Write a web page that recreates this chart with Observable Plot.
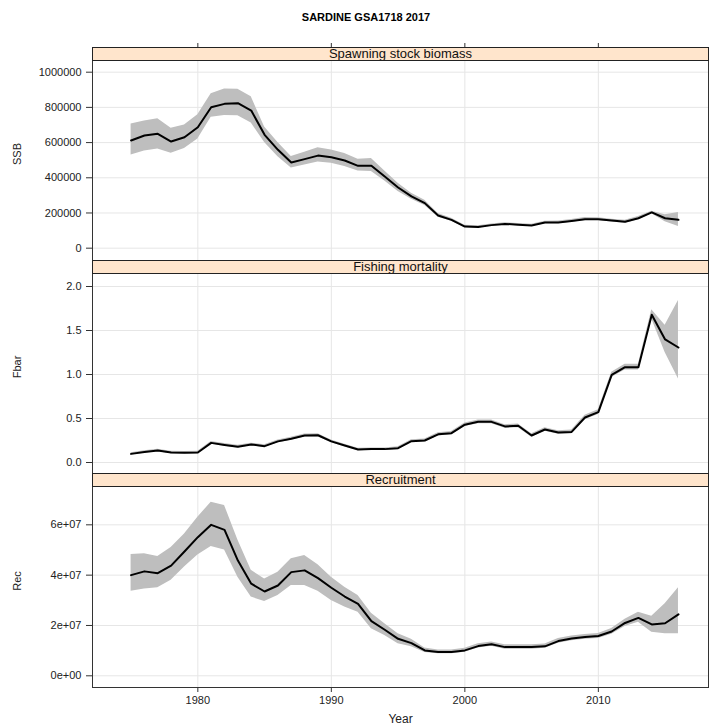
<!DOCTYPE html>
<html><head><meta charset="utf-8">
<script src="https://cdn.jsdelivr.net/npm/d3@7"></script>
<script src="https://cdn.jsdelivr.net/npm/@observablehq/plot@0.6"></script>
<style>
body{margin:0;background:#fff;}
#wrap{position:relative;width:709px;height:725px;overflow:hidden;font-family:"Liberation Sans",Arial,sans-serif;background:#fff;}
.panel{position:absolute;left:0;}
.strip{position:absolute;left:92px;width:617px;height:14px;box-sizing:border-box;border:1px solid #222;background:#ffe5cc;font-size:13px;line-height:12px;text-align:center;color:#111;overflow:hidden;z-index:5;}
#title{position:absolute;top:11px;left:0;width:732px;text-align:center;font-weight:bold;font-size:11px;color:#000;}
</style>
</head><body>
<div id="wrap">
  <div id="title">SARDINE GSA1718 2017</div>
</div>
<script>
const years = [1975,1976,1977,1978,1979,1980,1981,1982,1983,1984,1985,1986,1987,1988,1989,1990,1991,1992,1993,1994,1995,1996,1997,1998,1999,2000,2001,2002,2003,2004,2005,2006,2007,2008,2009,2010,2011,2012,2013,2014,2015,2016];

const ssb     = [612000,640000,650000,606000,630000,687000,801000,820000,824000,782000,644000,559000,487000,506000,526000,517000,498000,468000,468000,407000,345000,294000,256000,186000,161000,123000,121000,131000,138000,133000,129000,146000,146000,155000,165000,165000,157000,150000,170000,203000,170000,161000];
const ssbLow  = [530000,552000,563000,540000,566000,621000,744000,754000,752000,712000,600000,520000,455000,472000,490000,482000,464000,438000,436000,382000,322000,278000,242000,176000,153000,117000,115000,125000,131000,127000,123000,139000,139000,147000,157000,157000,149000,142000,161000,195000,150000,123000];
const ssbHigh = [705000,722000,735000,682000,700000,758000,878000,905000,903000,860000,688000,600000,521000,545000,570000,558000,538000,505000,510000,438000,369000,312000,272000,197000,170000,130000,128000,138000,145000,140000,136000,153000,154000,163000,174000,173000,165000,159000,180000,210000,190000,203000];

const fbar     = [0.098,0.12,0.136,0.114,0.11,0.114,0.223,0.2,0.18,0.205,0.186,0.24,0.27,0.307,0.31,0.24,0.193,0.148,0.152,0.152,0.163,0.242,0.25,0.32,0.333,0.43,0.462,0.462,0.41,0.417,0.307,0.375,0.34,0.348,0.511,0.572,0.996,1.083,1.083,1.678,1.398,1.307];
const fbarLow  = [0.085,0.106,0.121,0.1,0.096,0.1,0.207,0.185,0.165,0.19,0.171,0.224,0.253,0.289,0.292,0.224,0.178,0.134,0.138,0.138,0.148,0.226,0.233,0.302,0.314,0.41,0.441,0.441,0.39,0.396,0.288,0.355,0.32,0.327,0.485,0.545,0.965,1.05,1.05,1.63,1.25,0.95];
const fbarHigh = [0.111,0.134,0.151,0.128,0.124,0.128,0.239,0.215,0.195,0.22,0.201,0.256,0.287,0.325,0.328,0.256,0.208,0.162,0.166,0.166,0.178,0.258,0.267,0.338,0.352,0.45,0.483,0.483,0.43,0.438,0.326,0.395,0.36,0.369,0.537,0.6,1.027,1.116,1.116,1.735,1.56,1.84];

const rec     = [4.0e7,4.15e7,4.08e7,4.38e7,4.94e7,5.51e7,6.0e7,5.8e7,4.58e7,3.66e7,3.35e7,3.59e7,4.12e7,4.19e7,3.88e7,3.5e7,3.15e7,2.86e7,2.17e7,1.83e7,1.47e7,1.3e7,1.01e7,0.95e7,0.95e7,1.01e7,1.18e7,1.25e7,1.14e7,1.14e7,1.14e7,1.17e7,1.38e7,1.48e7,1.54e7,1.58e7,1.76e7,2.1e7,2.3e7,2.04e7,2.09e7,2.44e7];
const recLow  = [3.36e7,3.45e7,3.5e7,3.8e7,4.32e7,4.8e7,5.14e7,5.0e7,3.92e7,3.13e7,2.95e7,3.19e7,3.59e7,3.59e7,3.36e7,2.99e7,2.73e7,2.53e7,1.87e7,1.6e7,1.27e7,1.15e7,0.93e7,0.88e7,0.88e7,0.94e7,1.1e7,1.17e7,1.06e7,1.06e7,1.06e7,1.09e7,1.29e7,1.39e7,1.45e7,1.48e7,1.65e7,1.96e7,2.13e7,1.73e7,1.67e7,1.67e7];
const recHigh = [4.82e7,4.85e7,4.74e7,5.1e7,5.64e7,6.3e7,6.9e7,6.77e7,5.4e7,4.19e7,3.85e7,4.12e7,4.65e7,4.78e7,4.41e7,3.92e7,3.52e7,3.19e7,2.49e7,2.07e7,1.67e7,1.45e7,1.1e7,1.03e7,1.03e7,1.09e7,1.27e7,1.34e7,1.23e7,1.23e7,1.23e7,1.26e7,1.48e7,1.58e7,1.64e7,1.68e7,1.88e7,2.25e7,2.53e7,2.37e7,2.86e7,3.5e7];

const yearTicks = [1980,1990,2000,2010];
const ssbTicks = [0,200000,400000,600000,800000,1000000];
const fbarTicks = [0,0.5,1.0,1.5,2.0];
const recTicks = [0,2e7,4e7,6e7];
const stripLabels = ["Spawning stock biomass","Fishing mortality","Recruitment"];
const yLabels = ["SSB","Fbar","Rec"];
const xLabel = "Year";

const rows = (v, lo, hi) => years.map((y, i) => ({year: y, v: v[i], lo: lo[i], hi: hi[i]}));
const fmtExp = d => d.toExponential(0).replace(/e([+-])(\d)$/, "e$10$2");

const wrap = document.getElementById("wrap");
const xDomain = [1972.11, 2018.25];

function panel({data, yDomain, yTicks, yFormat, yLabel, top, height, marginTop, marginBottom, xAxis}) {
  const marks = [
    Plot.gridX({ticks: yearTicks, stroke: "#e6e6e6", strokeOpacity: 1}),
    Plot.gridY({ticks: yTicks, stroke: "#e6e6e6", strokeOpacity: 1}),
    Plot.areaY(data, {x: "year", y1: "lo", y2: "hi", fill: "#bebebe"}),
    Plot.lineY(data, {x: "year", y: "v", stroke: "#000", strokeWidth: 2}),
    Plot.frame({stroke: "#333"}),
    Plot.axisY({ticks: yTicks, tickSize: 6, tickPadding: 5, tickFormat: yFormat, stroke: "#333", fill: "#222",
      label: yLabel, labelAnchor: "center", labelArrow: "none", labelOffset: 79, fontSize: 11})
  ];
  if (xAxis === "top") {
    marks.push(Plot.axisX({anchor: "top", ticks: yearTicks, tickSize: 5, tickFormat: () => "", label: null, stroke: "#333"}));
  } else if (xAxis === "bottom") {
    marks.push(Plot.axisX({anchor: "bottom", ticks: yearTicks, tickSize: 5, tickPadding: 4, tickFormat: d => String(d),
      label: null, stroke: "#333", fill: "#222", fontSize: 11}));
    marks.push(Plot.axisX({anchor: "bottom", ticks: [], label: xLabel, labelAnchor: "center", labelArrow: "none", labelOffset: 35, fontSize: 12, fill: "#222"}));
  }
  const chart = Plot.plot({
    width: 709, height, marginLeft: 92, marginRight: 1, marginTop, marginBottom,
    style: {fontFamily: "Liberation Sans, Arial, sans-serif", fontSize: "11px", color: "#222", background: "transparent", overflow: "visible"},
    x: {domain: xDomain, axis: xAxis ? undefined : null},
    y: {domain: yDomain},
    marks
  });
  chart.classList.add("panel");
  chart.style.top = top + "px";
  chart.style.position = "absolute";
  wrap.appendChild(chart);
}

panel({data: rows(ssb, ssbLow, ssbHigh), yDomain: [-70000, 1140300], yTicks: ssbTicks, yFormat: d => String(d), yLabel: yLabels[0],
  top: 40, height: 221, marginTop: 7, marginBottom: 1, xAxis: "top"});
panel({data: rows(fbar, fbarLow, fbarHigh), yDomain: [-0.125, 2.2955], yTicks: fbarTicks, yFormat: d => d.toFixed(1), yLabel: yLabels[1],
  top: 259, height: 215, marginTop: 1, marginBottom: 1, xAxis: null});
panel({data: rows(rec, recLow, recHigh), yDomain: [-4.65e6, 8.0e7], yTicks: recTicks, yFormat: fmtExp, yLabel: yLabels[2],
  top: 473, height: 252, marginTop: 1, marginBottom: 38, xAxis: "bottom"});

const stripTops = [47, 260, 473];
stripLabels.forEach((s, i) => {
  const d = document.createElement("div");
  d.className = "strip";
  d.style.top = stripTops[i] + "px";
  d.textContent = s;
  wrap.appendChild(d);
});
</script>
</body></html>
